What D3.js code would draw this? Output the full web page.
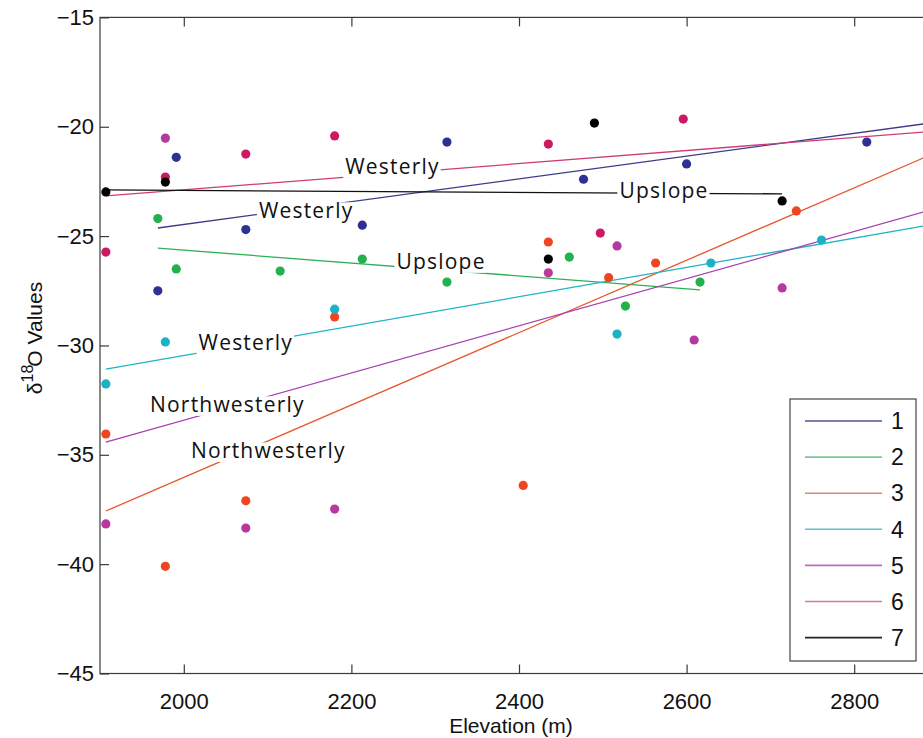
<!DOCTYPE html>
<html>
<head>
<meta charset="utf-8">
<script src="https://cdn.jsdelivr.net/npm/d3@7/dist/d3.min.js"></script>
<style>
  html, body { margin: 0; padding: 0; background: #fff; }
  svg { display: block; }
</style>
</head>
<body>
<svg id="chart" width="923" height="738"></svg>
<script>
// ---------------- DATA ----------------
const seriesNames = ["1", "2", "3", "4", "5", "6", "7"];

const elev1 = [1991, 2074, 1969, 2213, 2314, 2477, 2600, 2815];
const iso1  = [-21.4, -24.7, -27.5, -24.5, -20.7, -22.4, -21.7, -20.7];

const elev2 = [1969, 1991, 2115, 2213, 2314, 2460, 2527, 2616];
const iso2  = [-24.2, -26.5, -26.6, -26.05, -27.1, -25.96, -28.2, -27.1];

const elev3 = [2180, 1907, 2074, 1978, 2405, 2435, 2507, 2563, 2731];
const iso3  = [-28.7, -34.05, -37.1, -40.1, -36.4, -25.27, -26.9, -26.23, -23.85];

const elev4 = [2180, 1978, 1907, 2517, 2629, 2761];
const iso4  = [-28.34, -29.84, -31.76, -29.48, -26.23, -25.18];

const elev5 = [1907, 2074, 2180, 2435, 2517, 2609, 2714, 1978];
const iso5  = [-38.16, -38.35, -37.48, -26.68, -25.45, -29.75, -27.37, -20.52];

const elev6 = [2074, 2180, 1978, 1907, 2435, 2497, 2596];
const iso6  = [-21.25, -20.42, -22.3, -25.73, -20.79, -24.86, -19.65];

const elev7 = [1907, 1978, 2490, 2435, 2714];
const iso7  = [-22.98, -22.53, -19.83, -26.05, -23.39];

// fitted trend lines (start / end) per series
const fitElevStart = [1969, 1969, 1907, 1907, 1907, 1907, 1907];
const fitIsoStart  = [-24.63, -25.55, -37.57, -31.08, -34.42, -23.16, -22.89];
const fitElevEnd   = [2900, 2616, 2900, 2900, 2900, 2900, 2714];
const fitIsoEnd    = [-19.78, -27.46, -21.14, -24.42, -23.71, -20.19, -23.07];

// inline line labels
const labelText   = ["Westerly", "Upslope", "Northwesterly", "Westerly", "Northwesterly", "Westerly", "Upslope"];
const labelElev   = [2146, 2307, 2101, 2074, 2052, 2249, 2573];
const labelIso    = [-23.85, -26.18, -34.83, -29.89, -32.72, -21.84, -22.94];

const xTicks = [2000, 2200, 2400, 2600, 2800];
const yTicks = [-15, -20, -25, -30, -35, -40, -45];

// ---------------- STYLE ----------------
const pointColors = ["#2e3192", "#22b14c", "#ef4523", "#1ab3c5", "#b8399e", "#cc1962", "#000000"];
const lineColors  = ["#3c3c8c", "#2cb055", "#e8552c", "#1fb4c4", "#a93fb0", "#cf3a78", "#111111"];
const legendColors = ["#55558f", "#7cc899", "#d98a6f", "#5ec2cc", "#b570b8", "#d27aa8", "#222222"];

const allElev = [elev1, elev2, elev3, elev4, elev5, elev6, elev7];
const allIso  = [iso1, iso2, iso3, iso4, iso5, iso6, iso7];

const svg = d3.select("#chart");
const pL = 100, pR = 938, pT = 17.4, pB = 673.5;

const x = d3.scaleLinear().domain([1900, 2900]).range([pL, pR]);
const y = d3.scaleLinear().domain([-45, -15]).range([pB, pT]);

const tickFont = "'Liberation Sans', Arial, Helvetica, sans-serif";
const annFont = "'Open Sans', 'Noto Sans', sans-serif";

svg.append("defs").append("clipPath").attr("id", "plotclip")
  .append("rect").attr("x", pL).attr("y", pT).attr("width", pR - pL).attr("height", pB - pT);

const plot = svg.append("g").attr("clip-path", "url(#plotclip)");

// trend lines
const lineG = plot.append("g");
seriesNames.forEach((s, i) => {
  lineG.append("line")
    .attr("x1", x(fitElevStart[i])).attr("y1", y(fitIsoStart[i]))
    .attr("x2", x(fitElevEnd[i])).attr("y2", y(fitIsoEnd[i]))
    .attr("stroke", lineColors[i]).attr("stroke-width", 1.3);
});

// labels with white masks
const labG = plot.append("g");
const annSize = 21;
labelText.forEach((t, i) => {
  const cx = x(labelElev[i]);
  const cy = y(labelIso[i]);
  const base = cy + 0.33 * annSize;
  const g = labG.append("g");
  const rect = g.append("rect").attr("fill", "#fff");
  const txt = g.append("text")
    .attr("x", cx).attr("y", base)
    .attr("text-anchor", "middle")
    .attr("font-family", annFont)
    .attr("font-size", annSize)
    .attr("letter-spacing", "1.2px")
    .attr("fill", "#111")
    .text(t);
  const bb = txt.node().getBBox();
  rect.attr("x", bb.x - 2).attr("width", bb.width + 3)
    .attr("y", base - 0.74 * annSize).attr("height", 0.93 * annSize);
});

// points
const ptG = plot.append("g");
seriesNames.forEach((s, i) => {
  ptG.selectAll(null).data(d3.zip(allElev[i], allIso[i])).enter()
    .append("circle")
    .attr("cx", d => x(d[0])).attr("cy", d => y(d[1]))
    .attr("r", 4.6)
    .attr("fill", pointColors[i]);
});

// frame
const axisColor = "#3a3a3a";
svg.append("rect").attr("x", pL).attr("y", pT).attr("width", pR - pL).attr("height", pB - pT)
  .attr("fill", "none").attr("stroke", axisColor).attr("stroke-width", 1.2);

// axes
const xAxis = d3.axisBottom(x).tickValues(xTicks).tickSizeInner(-9).tickSizeOuter(0)
  .tickFormat(d3.format("d"));
const gx = svg.append("g").attr("transform", `translate(0,${pB})`).call(xAxis);
const xTop = d3.axisTop(x).tickValues(xTicks).tickSizeInner(-9).tickSizeOuter(0).tickFormat("");
const gxt = svg.append("g").attr("transform", `translate(0,${pT})`).call(xTop);
const yAxis = d3.axisLeft(y).tickValues(yTicks).tickSizeInner(-9).tickSizeOuter(0).tickPadding(6)
  .tickFormat(d => "\u2212" + Math.abs(d));
const gy = svg.append("g").attr("transform", `translate(${pL},0)`).call(yAxis);

[gx, gxt, gy].forEach(g => {
  g.select(".domain").remove();
  g.selectAll(".tick line").attr("stroke", axisColor).attr("stroke-width", 1.2);
  g.selectAll("text").attr("font-family", tickFont).attr("font-size", 22).attr("fill", "#111");
});
gx.selectAll("text").attr("dy", "0.35em").attr("y", 28);

// axis titles
svg.append("text")
  .attr("x", 511).attr("y", 733)
  .attr("text-anchor", "middle")
  .attr("font-family", tickFont).attr("font-size", 21).attr("fill", "#111")
  .text("Elevation (m)");

const yt = svg.append("text")
  .attr("transform", `translate(42, 338) rotate(-90)`)
  .attr("text-anchor", "middle")
  .attr("font-family", tickFont).attr("font-size", 21).attr("fill", "#111");
yt.append("tspan").text("\u03b4");
yt.append("tspan").attr("font-size", 16).attr("dy", -9).text("18");
yt.append("tspan").attr("dy", 9).attr("dx", -2).text("O Values");

// legend
const lgX = 790, lgY = 399, lgW = 126, lgH = 262;
const lg = svg.append("g");
lg.append("rect").attr("x", lgX).attr("y", lgY).attr("width", lgW).attr("height", lgH)
  .attr("fill", "#fff").attr("stroke", "#444").attr("stroke-width", 1.2);
seriesNames.forEach((s, i) => {
  const ry = lgY + 22 + i * 36.1;
  lg.append("line").attr("x1", lgX + 15).attr("x2", lgX + 92)
    .attr("y1", ry).attr("y2", ry)
    .attr("stroke", legendColors[i]).attr("stroke-width", 1.6);
  lg.append("text").attr("x", lgX + 101).attr("y", ry).attr("dy", "0.36em")
    .attr("font-family", tickFont).attr("font-size", 23).attr("fill", "#111")
    .text(s);
});
</script>
</body>
</html>
